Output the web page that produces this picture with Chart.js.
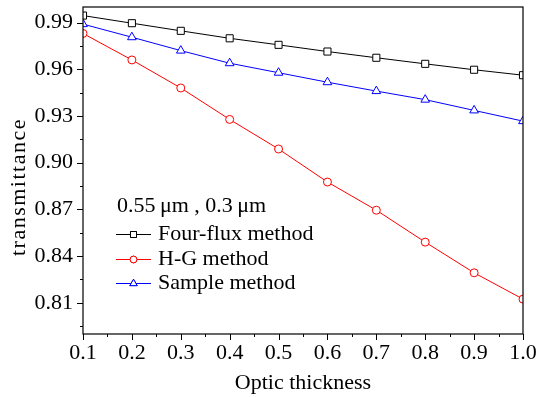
<!DOCTYPE html>
<html lang="en">
<head>
    <meta charset="UTF-8">
    <title>Transmittance vs optic thickness</title>
    <script src="https://cdn.jsdelivr.net/npm/chart.js"></script>
    <style>
        html, body {
            margin: 0;
            padding: 0;
            background: #fff;
        }
        #wrap {
            width: 537px;
            height: 397px;
            position: relative;
        }
    </style>
</head>
<body>
    <div id="wrap">
        <canvas id="chart"></canvas>
    </div>

    <script>
        // data
        const thickness = [0.1, 0.2, 0.3, 0.4, 0.5, 0.6, 0.7, 0.8, 0.9, 1.0];
        const fourFlux = [0.9945, 0.9896, 0.9847, 0.9799, 0.9757, 0.9714, 0.9674, 0.9635, 0.9597, 0.9562];
        const hgMethod = [0.9830, 0.9660, 0.9480, 0.9278, 0.9088, 0.8876, 0.8695, 0.8490, 0.8293, 0.8124];
        const sampleMethod = [0.9890, 0.9806, 0.9720, 0.9639, 0.9578, 0.9517, 0.9460, 0.9405, 0.9336, 0.9267];

        const xTicks = [0.1, 0.2, 0.3, 0.4, 0.5, 0.6, 0.7, 0.8, 0.9, 1.0];
        const yTicks = [0.81, 0.84, 0.87, 0.90, 0.93, 0.96, 0.99];
        const legendTitle = '0.55\u2009\u03bcm , 0.3\u2009\u03bcm';
        const yTitle = 'transmittance';

        const serif = "'Liberation Serif', 'DejaVu Serif', serif";

        function pts(ys) {
            return thickness.map((x, i) => ({ x: x, y: ys[i] }));
        }

        // frame, minor/major ticks, y title and in-plot legend
        const framePlugin = {
            id: 'frame',
            afterDatasetsDraw(chart) {
                const ctx = chart.ctx;
                const a = chart.chartArea;
                const xs = chart.scales.x;
                const ys = chart.scales.y;
                ctx.save();
                ctx.strokeStyle = '#000';
                ctx.lineWidth = 1.2;
                ctx.strokeRect(a.left, a.top, a.right - a.left, a.bottom - a.top);

                ctx.beginPath();
                for (let v = 0.1; v <= 1.0001; v += 0.05) {
                    const px = Math.round(xs.getPixelForValue(v)) + 0.5;
                    const major = Math.abs(v * 10 - Math.round(v * 10)) < 0.01;
                    ctx.moveTo(px, a.bottom);
                    ctx.lineTo(px, a.bottom + (major ? 6 : 3));
                }
                for (let v = 0.795; v <= 0.9951; v += 0.015) {
                    const py = Math.round(ys.getPixelForValue(v)) + 0.5;
                    const major = yTicks.some(t => Math.abs(t - v) < 0.001);
                    ctx.moveTo(a.left, py);
                    ctx.lineTo(a.left - (major ? 6 : 3), py);
                }
                ctx.lineWidth = 1;
                ctx.stroke();

                // y axis title, a bit spaced out like the original
                ctx.save();
                ctx.translate(19, 187);
                ctx.rotate(-Math.PI / 2);
                ctx.font = '22px ' + serif;
                ctx.letterSpacing = '1.5px';
                ctx.fillStyle = '#000';
                ctx.textAlign = 'center';
                ctx.textBaseline = 'middle';
                ctx.fillText(yTitle, 0, 0);
                ctx.restore();

                // legend
                ctx.font = '22px ' + serif;
                ctx.fillStyle = '#000';
                ctx.textBaseline = 'middle';
                ctx.textAlign = 'left';
                ctx.fillText(legendTitle, 117, 206);
                const rows = [234, 259, 283];
                chart.data.datasets.forEach((ds, i) => {
                    const y = rows[i] + 0.5;
                    ctx.strokeStyle = ds.borderColor;
                    ctx.lineWidth = 1;
                    ctx.beginPath();
                    ctx.moveTo(116, y);
                    ctx.lineTo(151, y);
                    ctx.stroke();
                    Chart.helpers.drawPoint(ctx, {
                        pointStyle: ds.pointStyle,
                        radius: ds.pointRadius * 0.85,
                        rotation: 0,
                        borderWidth: 1
                    }, 133.5, y);
                    ctx.fillStyle = '#fff';
                    ctx.strokeStyle = ds.borderColor;
                    ctx.fill();
                    ctx.stroke();
                    ctx.fillStyle = '#000';
                    ctx.fillText(ds.label, 158, rows[i]);
                });
                ctx.restore();
            }
        };

        const ctx = document.getElementById('chart').getContext('2d');
        new Chart(ctx, {
            type: 'line',
            data: {
                datasets: [
                    {
                        label: 'Four-flux method',
                        data: pts(fourFlux),
                        borderColor: '#000000',
                        pointStyle: 'rect',
                        pointRadius: 5
                    },
                    {
                        label: 'H-G method',
                        data: pts(hgMethod),
                        borderColor: '#ff0000',
                        pointStyle: 'circle',
                        pointRadius: 4
                    },
                    {
                        label: 'Sample method',
                        data: pts(sampleMethod),
                        borderColor: '#0000ff',
                        pointStyle: 'triangle',
                        pointRadius: 5
                    }
                ].map(d => Object.assign(d, {
                    borderWidth: 1,
                    pointBackgroundColor: '#ffffff',
                    pointBorderColor: d.borderColor,
                    pointBorderWidth: 1,
                    tension: 0,
                    clip: 0
                }))
            },
            options: {
                responsive: true,
                maintainAspectRatio: false,
                animation: false,
                layout: {
                    padding: { top: 7, right: 14, left: 0, bottom: 0 }
                },
                plugins: {
                    legend: { display: false },
                    tooltip: { enabled: false }
                },
                scales: {
                    x: {
                        type: 'linear',
                        min: 0.1,
                        max: 1.0,
                        afterBuildTicks: s => { s.ticks = xTicks.map(v => ({ value: v })); },
                        afterFit: s => {
                            s.height = 63;
                            s.paddingLeft = 0;
                            s.paddingRight = 0;
                        },
                        grid: { display: false, drawTicks: false },
                        border: { display: false },
                        ticks: {
                            color: '#000',
                            padding: 6,
                            maxRotation: 0,
                            autoSkip: false,
                            font: { family: serif, size: 22 },
                            callback: v => v.toFixed(1)
                        },
                        title: {
                            display: true,
                            text: 'Optic thickness',
                            color: '#000',
                            font: { family: serif, size: 22 },
                            padding: { top: 0, bottom: 1 }
                        }
                    },
                    y: {
                        type: 'linear',
                        min: 0.79,
                        max: 1.0,
                        afterBuildTicks: s => { s.ticks = yTicks.map(v => ({ value: v })); },
                        afterFit: s => {
                            s.width = 83;
                            s.paddingTop = 0;
                            s.paddingBottom = 0;
                        },
                        grid: { display: false, drawTicks: false },
                        border: { display: false },
                        ticks: {
                            color: '#000',
                            padding: 10,
                            autoSkip: false,
                            font: { family: serif, size: 22 },
                            callback: v => v.toFixed(2)
                        },
                        title: { display: false }
                    }
                }
            },
            plugins: [framePlugin]
        });
    </script>
</body>
</html>
